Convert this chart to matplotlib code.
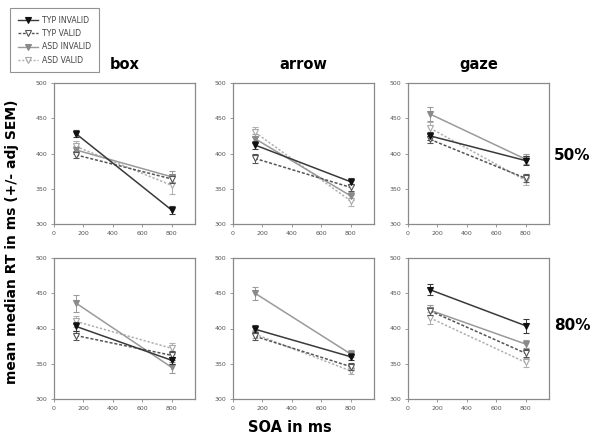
import matplotlib.pyplot as plt
from matplotlib.lines import Line2D

# ---- data ------------------------------------------------------------
soa = [150, 800]
cues = ["box", "arrow", "gaze"]
validity = ["50%", "80%"]
series = ["TYP INVALID", "TYP VALID", "ASD INVALID", "ASD VALID"]

# mean median RT per panel, order of `series`
rt_box_50 = [[428, 320], [398, 364], [405, 367], [410, 355]]
rt_arrow_50 = [[412, 360], [393, 352], [421, 340], [430, 333]]
rt_gaze_50 = [[425, 390], [420, 365], [456, 392], [436, 362]]
rt_box_80 = [[403, 355], [390, 362], [436, 345], [410, 372]]
rt_arrow_80 = [[399, 360], [389, 346], [450, 364], [392, 340]]
rt_gaze_80 = [[455, 404], [425, 365], [426, 378], [415, 352]]

# adjusted SEM per panel
sem_box_50 = [[5, 6], [5, 6], [6, 8], [8, 13]]
sem_arrow_50 = [[6, 5], [7, 5], [6, 6], [7, 8]]
sem_gaze_50 = [[6, 6], [5, 6], [10, 7], [8, 7]]
sem_box_80 = [[6, 5], [6, 6], [12, 8], [8, 8]]
sem_arrow_80 = [[6, 5], [6, 5], [9, 5], [6, 5]]
sem_gaze_80 = [[8, 10], [6, 6], [8, 6], [8, 6]]

rt = {("50%", "box"): rt_box_50, ("50%", "arrow"): rt_arrow_50,
      ("50%", "gaze"): rt_gaze_50, ("80%", "box"): rt_box_80,
      ("80%", "arrow"): rt_arrow_80, ("80%", "gaze"): rt_gaze_80}
sem = {("50%", "box"): sem_box_50, ("50%", "arrow"): sem_arrow_50,
       ("50%", "gaze"): sem_gaze_50, ("80%", "box"): sem_box_80,
       ("80%", "arrow"): sem_arrow_80, ("80%", "gaze"): sem_gaze_80}

# ---- styles -----------------------------------------------------------
styles = {
    "TYP INVALID": dict(color="#3a3a3a", ls="-", mfc="#111111", mec="#111111"),
    "TYP VALID": dict(color="#555555", ls=(0, (2, 1.2)), mfc="white", mec="#555555"),
    "ASD INVALID": dict(color="#9a9a9a", ls="-", mfc="#8a8a8a", mec="#8a8a8a"),
    "ASD VALID": dict(color="#b0b0b0", ls=(0, (1.5, 1.2)), mfc="white", mec="#a8a8a8"),
}

fig = plt.figure(figsize=(6, 4.43), dpi=100)

lefts = [54 / 600, 233 / 600, 408 / 600]
bottoms = [1 - 224 / 443, 1 - 399 / 443]
w, h = 141 / 600, 141 / 443

for r, val in enumerate(validity):
    for c, cue in enumerate(cues):
        ax = fig.add_axes([lefts[c], bottoms[r], w, h])
        for k, name in enumerate(series):
            st = styles[name]
            ax.errorbar(soa, rt[(val, cue)][k], yerr=sem[(val, cue)][k],
                        color=st["color"], ls=st["ls"], lw=1.1,
                        marker="v", ms=4.5, mfc=st["mfc"], mec=st["mec"],
                        mew=0.8, elinewidth=0.7, capsize=2.5, capthick=0.7,
                        zorder=3 - k * 0.1)
        ax.set_xlim(0, 960)
        ax.set_ylim(300, 500)
        ax.set_xticks([0, 200, 400, 600, 800])
        ax.set_yticks([300, 350, 400, 450, 500])
        ax.tick_params(labelsize=4.5, labelcolor="#555555", color="#888888",
                       length=2, width=0.6, pad=3)
        for sp in ax.spines.values():
            sp.set_color("#8a8a8a")
            sp.set_linewidth(0.9)
        if r == 0:
            ax.set_title(cue, fontsize=10.5, fontweight="bold", pad=10)

fig.text(572 / 600, 1 - 155 / 443, "50%", fontsize=11, fontweight="bold",
         ha="center", va="center")
fig.text(572 / 600, 1 - 325 / 443, "80%", fontsize=11, fontweight="bold",
         ha="center", va="center")
fig.text(12 / 600, 1 - 242 / 443, "mean median RT in ms (+/- adj SEM)",
         rotation=90, fontsize=10, fontweight="bold", ha="center", va="center")
fig.text(290 / 600, 1 - 428 / 443, "SOA in ms", fontsize=10.5,
         fontweight="bold", ha="center", va="center")

handles = []
for name in series:
    st = styles[name]
    handles.append(Line2D([], [], color=st["color"], ls=st["ls"], lw=1.0,
                          marker="v", ms=4, mfc=st["mfc"], mec=st["mec"],
                          mew=0.8))
leg = fig.legend(handles, series, loc="upper left",
                 bbox_to_anchor=(10 / 600, 1 - 8 / 443), fontsize=5.6,
                 frameon=True, fancybox=False, edgecolor="#777777",
                 handlelength=2.6, labelspacing=0.55, borderpad=1.0,
                 handletextpad=0.5, borderaxespad=0)
leg.get_frame().set_linewidth(0.8)
for t in leg.get_texts():
    t.set_color("#444444")

fig.savefig("out.png", dpi=100)
